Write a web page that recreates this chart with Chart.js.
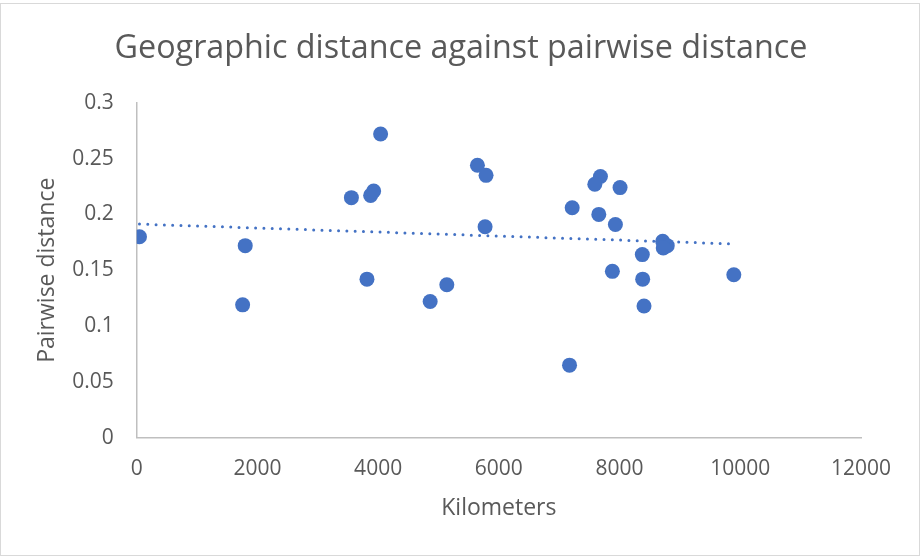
<!DOCTYPE html>
<html>
<head>
<meta charset="utf-8">
<script src="https://cdn.jsdelivr.net/npm/chart.js@4/dist/chart.umd.min.js"></script>
<style>
  html, body { margin: 0; padding: 0; background: #ffffff; }
  #wrap { width: 922px; height: 558px; position: relative; }
</style>
</head>
<body>
<div id="wrap"><canvas id="chart" width="922" height="558"></canvas></div>
<script>
// Geographic distance (km) for each population pair
const kilometers = [46, 1798, 1755, 3557, 3876, 3926, 4041, 3815, 4862, 5138,
  5645, 5788, 5772, 7683, 7590, 8008, 7215, 7656, 7931, 8714,
  8790, 8724, 8377, 7881, 8383, 8405, 9893, 7171];
// Pairwise genetic distance for the same pairs
const pairwiseDistance = [0.180, 0.172, 0.119, 0.215, 0.217, 0.221, 0.272, 0.142, 0.122, 0.137,
  0.244, 0.235, 0.189, 0.234, 0.227, 0.224, 0.206, 0.200, 0.191, 0.176,
  0.172, 0.170, 0.164, 0.149, 0.142, 0.118, 0.146, 0.065];

const chartTitle = 'Geographic distance against pairwise distance';
const xAxisTitle = 'Kilometers';
const yAxisTitle = 'Pairwise distance';
const xTickValues = [0, 2000, 4000, 6000, 8000, 10000, 12000];
const yTickValues = [0, 0.05, 0.1, 0.15, 0.2, 0.25, 0.3];

const points = kilometers.map((x, i) => ({ x: x, y: pairwiseDistance[i] }));

// Least-squares linear trend over the observed range
function linearTrend(xs, ys) {
  const n = xs.length;
  const mx = xs.reduce((a, b) => a + b, 0) / n;
  const my = ys.reduce((a, b) => a + b, 0) / n;
  let sxy = 0, sxx = 0;
  for (let i = 0; i < n; i++) {
    sxy += (xs[i] - mx) * (ys[i] - my);
    sxx += (xs[i] - mx) * (xs[i] - mx);
  }
  const slope = sxy / sxx;
  const icpt = my - slope * mx;
  const x0 = Math.min(...xs), x1 = Math.max(...xs);
  return [{ x: x0, y: icpt + slope * x0 }, { x: x1, y: icpt + slope * x1 }];
}
const trend = linearTrend(kilometers, pairwiseDistance);

const TEXT = '#595959';
const AXIS = '#BFBFBF';
const BLUE = '#4472C4';
const FONT = "'Open Sans', 'Liberation Sans', sans-serif";

// White background and thin outer frame around the chart
const frame = {
  id: 'frame',
  beforeDraw(chart) {
    const ctx = chart.ctx;
    ctx.save();
    ctx.fillStyle = '#ffffff';
    ctx.fillRect(0, 0, chart.width, chart.height);
    ctx.strokeStyle = '#D9D9D9';
    ctx.lineWidth = 1;
    ctx.strokeRect(0.5, 3.5, 919, 552);
    ctx.restore();
  }
};

new Chart(document.getElementById('chart'), {
  type: 'scatter',
  data: {
    datasets: [
      {
        label: 'Pairwise distance',
        data: points,
        backgroundColor: BLUE,
        borderColor: BLUE,
        borderWidth: 0,
        pointRadius: 7.5,
        pointHoverRadius: 7.5,
        order: 1
      },
      {
        type: 'line',
        label: 'Linear trend',
        data: trend,
        borderColor: BLUE,
        borderWidth: 3,
        borderDash: [0, 8.3],
        borderCapStyle: 'round',
        pointRadius: 0,
        fill: false,
        order: 2
      }
    ]
  },
  plugins: [frame],
  options: {
    responsive: false,
    animation: false,
    events: [],
    layout: { padding: { top: 11, left: 0, right: 0, bottom: 0 } },
    plugins: {
      legend: { display: false },
      tooltip: { enabled: false },
      title: {
        display: true,
        text: chartTitle,
        color: TEXT,
        font: { family: FONT, size: 32.3, weight: 'normal' },
        padding: { top: 18, bottom: 35 }
      }
    },
    scales: {
      x: {
        type: 'linear',
        min: 0,
        max: 12000,
        afterBuildTicks(scale) { scale.ticks = xTickValues.map(v => ({ value: v })); },
        afterFit(scale) { scale.height = 120.3; },
        grid: { display: false, drawTicks: false },
        border: { display: true, color: AXIS, width: 1.5 },
        ticks: {
          color: TEXT,
          font: { family: FONT, size: 21 },
          padding: 19,
          maxRotation: 0,
          callback: v => String(v)
        },
        title: {
          display: true,
          text: xAxisTitle,
          color: TEXT,
          font: { family: FONT, size: 23 },
          padding: { top: 0, bottom: 36 }
        }
      },
      y: {
        type: 'linear',
        min: 0,
        max: 0.3,
        afterBuildTicks(scale) { scale.ticks = yTickValues.map(v => ({ value: v })); },
        afterFit(scale) { scale.width = 136.7; },
        grid: { display: false, drawTicks: false },
        border: { display: true, color: AXIS, width: 1.5 },
        ticks: {
          color: TEXT,
          font: { family: FONT, size: 21 },
          padding: 23,
          callback: v => String(v)
        },
        title: {
          display: true,
          text: yAxisTitle,
          color: TEXT,
          font: { family: FONT, size: 23 },
          padding: { top: 34, bottom: 0 }
        }
      },
      // Empty right-hand margin so the plot ends where the frame leaves room
      margin: {
        type: 'linear',
        position: 'right',
        min: 0,
        max: 1,
        afterFit(scale) { scale.width = 61; },
        grid: { display: false, drawTicks: false },
        border: { display: false },
        ticks: { display: false }
      }
    }
  }
});
</script>
</body>
</html>
